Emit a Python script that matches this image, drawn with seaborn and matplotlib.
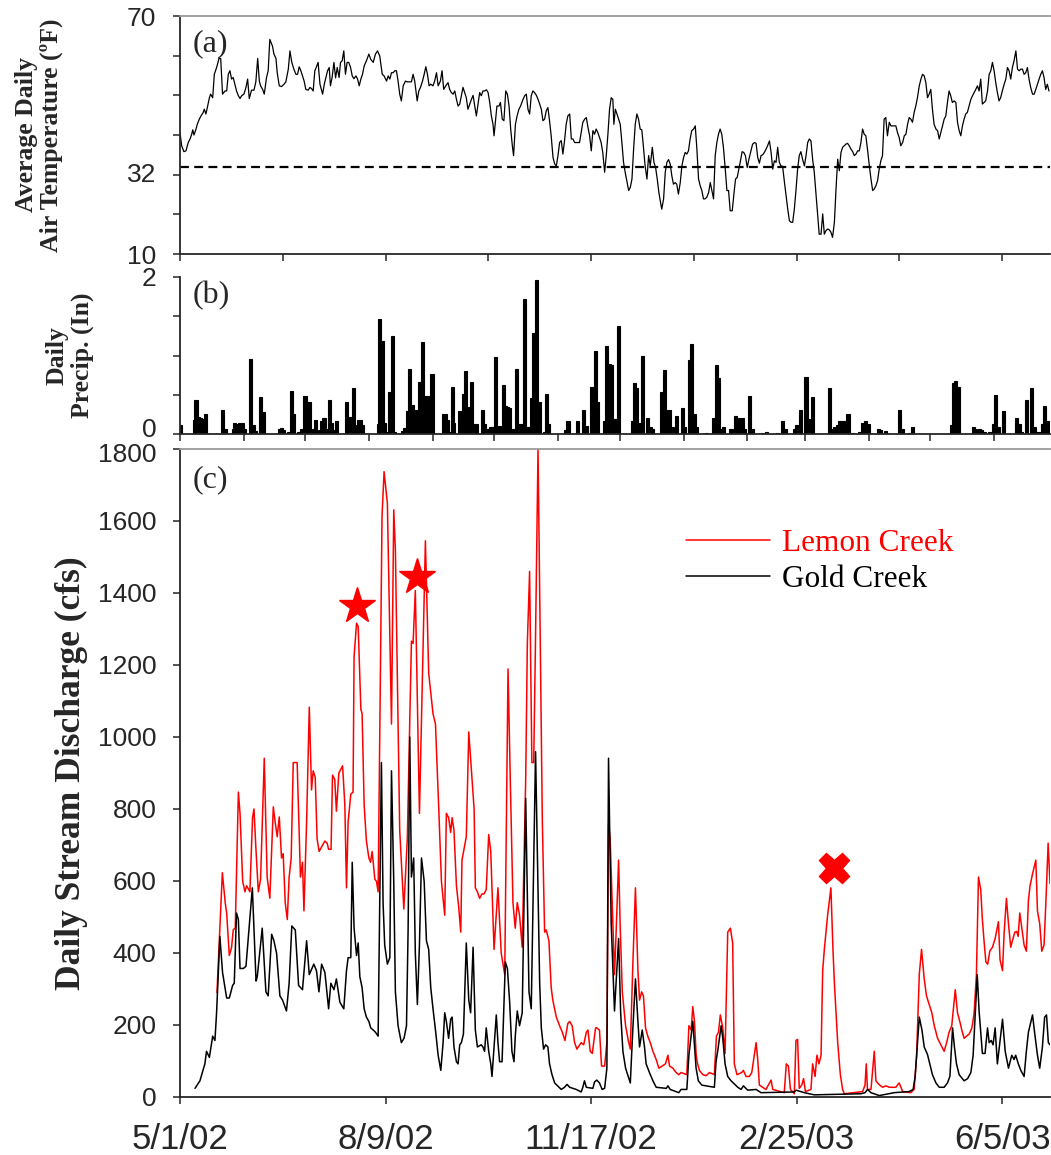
import matplotlib
matplotlib.use("Agg")
import matplotlib.pyplot as plt
import matplotlib.transforms as mtransforms
import seaborn as sns
import pandas as pd
import numpy as np

# ---------------- data (day offset from 5/1/2002, value) ----------------
START = pd.Timestamp("2002-05-01")

TEMP_F = [
(0,40.6),(0.8,37.3),(1.9,35.8),(2.9,36),(4.0,38.1),(4.9,39),(5.7,40.2),(6.2,41.3),(6.8,40),(7.8,41.5),
(8.4,42.7),(9.4,44),(10.2,44.8),(11.3,45.7),(11.8,46.5),(12.6,45.3),(13.3,46.9),(14.3,49.4),(14.9,50.3),(15.9,49.4),
(16.7,55.3),(17.8,57),(19.0,59.3),(19.8,59.3),(20.7,50.3),(21.9,51.1),(22.7,51.1),(23.5,55.3),(24.3,56.2),(25.1,54.1),
(25.9,54.5),(26.7,52.8),(27.5,51.1),(28.4,49.9),(29.2,49.2),(30.0,49.9),(31.1,50.3),(32.1,52),(32.9,54.1),(33.7,49.2),
(34.8,51.3),(36.0,51.3),(36.9,53.4),(37.8,59.3),(38.6,53.6),(39.2,52.4),(40.2,51.5),(41.0,50.3),(42.1,54.5),(42.9,56.2),
(43.7,64.1),(45.0,62.4),(45.7,60.4),(46.7,59.3),(47.3,55.7),(48.3,52.4),(49.4,52.2),(50.6,52.8),(51.5,53.4),(52.7,56.6),
(53.5,61.2),(54.4,58.3),(55.4,56.6),(56.4,55.3),(57.2,55.3),(58.0,57.2),(58.8,56.2),(59.6,54.9),(60.4,53.6),(61.2,51.5),
(62.4,51.3),(63.2,52),(64.0,51.7),(64.8,51.1),(65.6,56.2),(66.4,57.2),(67.2,58.3),(68.1,52.8),(69.4,50.3),(70.2,52.8),
(71.0,54.5),(71.8,56.2),(72.6,57),(73.2,52.4),(74.0,54.5),(74.9,58.3),(75.7,54.4),(76.5,57),(77.4,54.5),(78.1,58.3),
(78.9,58.7),(79.7,61.2),(80.5,55.3),(81.3,58.3),(82.1,58.3),(83.0,57),(83.8,54.9),(84.6,54.2),(85.6,54.9),(86.4,54.1),
(87.2,52.4),(88.0,54.1),(88.8,55.3),(89.6,57.4),(90.7,58.7),(91.9,60.4),(92.8,59.1),(94.0,58.3),(95.1,60.4),(96.1,61.2),
(97.2,59.9),(98.4,55.3),(99.3,54.9),(100.5,53.6),(101.3,54.9),(102.1,54.1),(102.9,55.7),(103.7,55.7),(104.5,56.2),(105.3,56.2),
(106.1,53.6),(106.9,50.3),(107.7,48.6),(108.6,52.4),(109.7,53.6),(110.5,53.4),(111.8,53.4),(112.6,53.4),(113.4,55.3),(114.2,53.6),
(114.7,51.5),(115.4,48.6),(116.2,51.1),(117.0,52),(118.0,53.6),(118.8,55.3),(119.6,57.2),(120.4,55.3),(121.2,52.4),(122.0,52.8),
(123.1,52.4),(123.9,53.6),(124.8,55.7),(125.6,52.4),(126.7,53.6),(127.5,56.2),(128.3,51.5),(129.3,52.4),(130.4,53.2),(131.2,51.5),
(132.0,50.7),(132.9,50.3),(133.7,51.1),(134.5,49),(135.3,47.3),(136.1,47.8),(136.9,49.9),(137.7,52),(138.5,50.7),(139.3,49.4),
(140.1,46.5),(141.0,47.8),(141.8,49),(142.6,50),(143.4,47.3),(144.2,44.8),(145.0,47.8),(145.8,50.7),(146.6,49.9),(147.4,51.1),
(148.2,51.1),(149.1,51.4),(149.9,50.7),(150.7,48.2),(151.5,44.8),(152.3,42.7),(152.8,39.8),(153.6,44),(154.2,47.3),(155.2,47.3),
(155.9,48.2),(156.8,44),(157.6,43.6),(158.5,51.1),(159.3,50.3),(160.1,47.3),(160.9,41.5),(161.7,37.3),(162.3,34.8),(163.2,42.7),
(164.0,44.8),(164.9,46.5),(165.7,47.3),(166.9,49),(167.7,49.9),(168.5,50.3),(169.3,46.5),(170.1,45.3),(170.9,49.9),(171.7,51.1),
(172.5,50.7),(173.4,50),(174.2,49),(175.0,47.8),(175.8,46.5),(176.6,43.6),(177.4,44),(178.2,46.1),(179.0,46.9),(179.8,43.6),
(180.6,39.8),(181.5,34.3),(182.3,32.7),(183.1,32.2),(183.9,34.8),(184.7,38.1),(185.5,38.6),(186.3,35.2),(187.1,38.6),(187.9,42.7),
(188.7,44.8),(189.6,45.3),(190.4,39),(191.2,39),(192.0,38.1),(192.8,38.1),(193.6,38.1),(194.4,38.1),(195.2,40.6),(196.0,43.2),
(196.9,44),(197.7,44.4),(198.5,41.9),(199.3,39.8),(200.1,36),(200.9,41.1),(201.7,40.2),(202.5,41.5),(203.3,40.6),(204.1,39.4),
(204.9,38.1),(205.7,35.6),(206.6,30.6),(207.4,34.8),(208.2,40.2),(209.0,46.5),(209.8,49.4),(210.6,49),(211.1,42.7),(211.8,46.5),
(212.6,45.3),(213.4,44),(214.2,42.7),(215.0,38.1),(215.8,33.1),(216.6,30.6),(217.4,28.5),(218.3,26),(219.1,26.8),(219.9,28.9),
(220.7,36.4),(221.5,42.7),(222.3,45.3),(223.1,44),(223.9,41.5),(224.7,41.3),(225.5,36.9),(226.3,32.2),(227.2,28.9),(228.0,34.8),
(228.8,32.2),(229.8,36.9),(230.6,33.1),(231.4,31.8),(232.2,28.9),(233.0,25.5),(233.8,23),(234.4,21.3),(235.3,23.9),(236.1,30.6),
(236.9,33.1),(237.7,33.8),(238.5,32.7),(239.3,29.7),(240.1,27.6),(240.9,28),(241.7,27.6),(242.5,25.1),(243.4,28),(244.2,32.2),
(245.0,34.3),(245.8,35.6),(246.6,35.2),(247.4,36),(248.2,39),(249.0,41.1),(249.9,41.5),(250.7,42.3),(251.5,36.4),(252.3,28.9),
(253.1,27.2),(253.9,26),(254.7,23.9),(255.5,23.9),(256.3,24.3),(257.2,25.5),(258.0,28),(258.8,26),(259.6,23.9),(260.4,34.8),
(261.2,38.1),(262.0,40.2),(262.8,41.5),(263.6,40.2),(264.4,36.9),(265.3,31.4),(266.1,26),(266.9,26),(267.7,20.9),(268.7,20.9),
(269.5,25.1),(270.3,28.9),(271.1,29.3),(271.9,31.4),(272.7,33.5),(273.5,35.8),(274.3,35.6),(275.1,34.8),(276.0,31.8),(276.8,33.9),
(277.8,36),(278.6,37.7),(279.5,38.1),(280.3,37.9),(281.1,34.3),(281.9,32.9),(282.7,34.8),(283.5,35),(284.3,35.6),(285.1,36.4),
(285.9,37.3),(286.8,38.5),(287.6,35.6),(288.4,31.4),(289.2,33.5),(290.0,33.1),(290.8,36.9),(291.6,33.1),(292.4,32.2),(293.2,32.1),
(294.0,28.5),(294.9,24.7),(295.7,21.3),(296.5,18.4),(297.3,18),(298.1,18),(298.9,21.3),(299.7,26),(300.5,31.4),(301.3,34.8),
(302.1,35.8),(302.9,33.9),(303.8,32.2),(304.6,34.8),(305.4,38.1),(306.2,39),(307.0,38.5),(307.8,33.9),(308.6,30.6),(309.4,25.5),
(310.2,20.5),(311.0,15),(311.9,15),(312.7,20.1),(313.5,15),(314.3,15.9),(315.1,16.3),(315.9,16.1),(316.7,15.5),(317.5,14.2),
(318.4,18),(319.2,26.5),(320.0,33.9),(320.8,31),(321.6,35.6),(322.4,36.9),(323.2,37.3),(324.0,37.7),(324.8,37.9),(325.6,37.3),
(326.5,36.4),(327.3,35.8),(328.1,34.8),(328.9,35.2),(329.7,36),(330.5,36),(331.3,38.1),(332.1,41.5),(332.9,40.2),(333.7,39.8),
(334.5,36.4),(335.4,32.2),(336.2,28.9),(337.0,26),(337.8,26.4),(338.6,27.2),(339.4,28.5),(340.2,31.4),(341.0,33.5),(341.8,34.8),
(342.6,44),(343.4,44.4),(344.2,39.8),(345.1,43.2),(345.9,42.3),(346.7,42.3),(347.5,42.3),(348.3,42.3),(349.1,40.6),(349.9,39.4),
(350.7,37.3),(351.6,38.1),(352.4,39.8),(353.2,40.2),(354.0,42.7),(354.8,44.4),(355.6,44),(356.4,43.2),(357.2,45.7),(358.0,47.3),
(358.8,49.4),(359.7,52.4),(360.5,54.1),(361.3,55.3),(362.1,54.9),(362.9,53.2),(363.7,49.4),(364.5,50.3),(365.3,51.5),(366.1,46.5),
(366.9,42.7),(367.8,41.5),(368.6,41.1),(369.4,39),(370.2,40.6),(371.0,42.3),(371.8,44),(372.6,44.8),(373.4,48.2),(374.2,51.1),
(375.0,49.9),(375.8,48.2),(376.7,48.6),(377.5,48.2),(378.3,43.2),(379.1,41.1),(379.9,39.8),(380.7,42.3),(381.5,44),(382.3,45.3),
(383.1,45.7),(383.9,47.3),(384.8,49),(385.6,49.9),(386.4,50.7),(387.2,51.5),(388.0,52.4),(388.8,51.1),(389.6,54.1),(390.4,47.8),
(391.2,48.2),(392.0,48.6),(392.9,51.1),(393.7,55.3),(394.5,56.2),(395.3,58.3),(396.1,56.2),(396.9,53.2),(397.7,50.7),(398.5,48.6),
(399.3,49.4),(400.1,51.1),(401.0,52.8),(401.8,54.1),(402.6,57),(403.4,56.2),(404.2,54.1),(405.0,57),(405.8,58.7),(406.7,61.2),
(407.5,56.6),(408.3,56.2),(409.1,56.6),(409.9,56.6),(410.7,55.3),(411.5,55.7),(412.3,57),(413.1,54.1),(413.9,52),(414.8,50.3),
(415.6,50.3),(416.4,51.5),(417.2,52.8),(418.0,54.1),(418.8,55.3),(419.6,56.2),(420.4,54.5),(421.2,51.5),(422.0,52.8),(422.8,51.1),
]

PRECIP_IN = [
(0,0.12),(7.3,0.18),(7.8,0.43),(8.9,0.22),(10.0,0.2),(11.0,0.19),(12.4,0.26),(20.7,0.3),(21.9,0.07),(25.9,0.07),
(26.7,0.14),(27.5,0.13),(28.4,0.11),(29.2,0.14),(30.5,0.14),(31.6,0.07),(34.4,0.95),(35.7,0.11),(36.5,0.04),(39.2,0.47),
(40.5,0.28),(48.6,0.06),(49.4,0.08),(50.2,0.05),(52.7,0.03),(54.3,0.55),(55.4,0.26),(57.5,0.03),(59.1,0.06),(60.8,0.49),
(61.9,0.41),(62.9,0.41),(63.9,0.05),(64.8,0.07),(66.1,0.18),(67.7,0.05),(68.9,0.16),(69.7,0.21),(70.5,0.21),(71.3,0.06),
(72.6,0.43),(73.7,0.14),(74.5,0.05),(76.1,0.16),(81.0,0.41),(82.0,0.22),(83.4,0.22),(84.3,0.58),(85.1,0.11),(86.7,0.18),
(87.8,0.18),(88.8,0.11),(96.4,0.13),(97.2,1.46),(98.5,1.19),(99.6,0.14),(100.8,0.03),(102.1,0.53),(103.2,1.25),(104.5,0.02),
(108.2,0.04),(109.4,0.08),(110.5,0.29),(111.8,0.83),(112.9,0.37),(114.2,0.31),(115.4,0.31),(116.7,0.66),(117.8,1.17),(119.1,0.48),
(120.2,0.48),(121.5,0.31),(122.6,0.77),(128.0,0.26),(129.1,0.26),(130.1,0.18),(131.2,0.03),(132.4,0.6),(133.2,0.14),(135.8,0.29),
(136.9,0.13),(138.0,0.51),(139.0,0.8),(140.1,0.34),(141.0,0.13),(141.8,0.66),(142.9,0.13),(144.2,0.13),(147.1,0.31),(148.2,0.13),
(149.4,0.06),(150.4,0.07),(151.2,0.09),(152.3,0.09),(153.4,0.98),(154.7,0.09),(155.5,0.1),(157.2,0.63),(158.3,0.36),(159.3,0.35),
(160.4,0.33),(162.0,0.07),(163.6,0.83),(164.9,0.13),(166.1,0.13),(167.7,1.72),(168.5,0.09),(169.8,0.09),(170.9,0.46),(172.1,1.29),
(173.4,1.96),(174.7,0.41),(177.4,0.02),(178.2,0.51),(179.5,0.13),(187.6,0.05),(188.8,0.16),(193.6,0.16),(196.4,0.31),(197.7,0.1),
(200.1,0.6),(202.2,1.06),(203.3,0.41),(206.6,0.17),(207.7,1.12),(209.0,0.89),(210.1,0.88),(211.4,0.19),(212.2,0.19),(213.5,1.37),
(220.0,0.17),(221.1,0.65),(222.3,0.58),(223.6,0.14),(224.9,1.0),(227.6,0.21),(228.8,0.09),(230.1,0.06),(234.4,0.53),(235.6,0.82),
(236.9,0.31),(238.2,0.31),(239.8,0.09),(241.4,0.23),(244.3,0.33),(245.5,0.09),(247.9,0.94),(249.0,1.15),(250.3,0.26),(251.5,0.09),
(256.0,0.01),(259.6,0.21),(260.9,0.88),(262.2,0.71),(263.3,0.07),(264.5,0.09),(268.1,0.06),(270.3,0.23),(271.4,0.18),(272.2,0.2),
(273.5,0.21),(274.7,0.07),(277.1,0.48),(278.3,0.07),(283.5,0.01),(285.5,0.02),(290.8,0.01),(293.2,0.16),(294.5,0.06),(298.9,0.07),
(300.0,0.11),(301.8,0.31),(304.6,0.73),(305.9,0.19),(307.8,0.47),(316.2,0.58),(317.5,0.07),(318.7,0.09),(319.9,0.11),(321.1,0.17),
(322.4,0.17),(323.5,0.17),(325.0,0.26),(327.3,0.01),(330.5,0.03),(332.1,0.14),(333.4,0.17),(334.9,0.13),(339.9,0.06),(341.0,0.05),
(343.1,0.04),(350.0,0.31),(351.6,0.07),(354.8,0.01),(356.4,0.09),(375.2,0.11),(376.3,0.65),(377.5,0.68),(378.8,0.6),(385.9,0.09),
(387.2,0.07),(388.8,0.07),(389.9,0.05),(391.3,0.03),(394.0,0.02),(395.7,0.13),(397.0,0.5),(398.2,0.09),(400.7,0.29),(407.1,0.21),
(408.3,0.13),(409.6,0.02),(411.8,0.43),(414.1,0.58),(415.6,0.09),(416.7,0.03),(418.3,0.03),(419.6,0.13),(420.7,0.36),(422.0,0.16),
]

LEMON_CFS = [
(18,290),(20.6,623),(22.0,540),(22.7,511),(24.0,393),(25.1,416),(25.9,464),(26.9,470),(28.4,847),(29.2,788),
(30.5,599),(31.6,570),(32.4,587),(34.0,570),(35.3,776),(36.0,800),(36.9,694),(38.1,570),(39.2,605),(41.0,941),
(42.4,611),(43.7,552),(45.4,806),(46.3,764),(47.3,723),(48.3,778),(49.4,664),(50.2,676),(51.2,540),(52.2,493),
(53.1,611),(54.1,664),(55.1,929),(57.0,929),(58.6,611),(59.6,652),(60.3,517),(61.6,764),(62.9,1083),(64.0,853),
(64.8,906),(65.8,888),(66.7,717),(67.7,682),(69.3,699),(70.5,711),(71.6,705),(72.3,688),(73.5,688),(74.2,894),
(75.3,882),(76.1,794),(77.3,900),(79.1,920),(80.2,812),(81.0,581),(81.8,764),(83.1,841),(84.2,847),(84.7,1224),
(85.9,1316),(86.7,1307),(88.0,1077),(88.6,1065),(89.6,811),(90.7,711),(91.9,664),(92.7,652),(93.5,682),(94.8,605),
(95.6,599),(96.4,570),(98.3,1614),(99.3,1737),(100.9,1649),(102.9,1036),(104.0,1631),(104.8,1519),(106.9,741),(108.9,522),
(110.6,717),(112.6,1266),(113.4,1260),(114.5,1407),(116.5,788),(119.4,1545),(121.0,1177),(123.1,1065),(124.3,1036),(125.9,800),
(127.2,599),(128.8,505),(129.6,788),(130.7,776),(131.7,735),(132.4,776),(133.3,741),(134.5,587),(135.6,528),(136.6,458),
(137.2,658),(139.3,723),(140.5,1014),(141.8,906),(143.1,800),(143.7,581),(144.7,570),(145.8,552),(146.9,564),(147.9,564),
(149.0,576),(150.2,729),(151.2,682),(152.8,410),(154.7,581),(156.3,399),(158.0,340),(159.6,1189),(160.7,882),(162.0,540),
(163.1,469),(164.1,540),(165.2,505),(166.5,416),(168.2,882),(169.0,1260),(170.1,1460),(171.2,929),(172.1,929),(173.0,1283),
(174.2,1800),(176.3,764),(177.4,458),(178.2,464),(179.5,434),(180.6,304),(181.4,269),(183.1,222),(184.7,198),(186.0,180),
(187.3,157),(188.7,204),(189.6,210),(190.8,198),(192.0,151),(193.1,133),(195.2,151),(196.4,145),(197.7,180),(198.5,186),
(199.6,127),(200.6,121),(202.2,192),(202.8,192),(204.1,186),(205.1,86),(206.6,86),(207.7,151),(208.5,758),(209.3,717),
(211.4,340),(212.2,458),(213.4,658),(214.2,469),(215.2,292),(216.8,198),(218.1,157),(219.1,133),(220.3,363),(221.6,581),
(222.8,351),(223.6,269),(224.6,292),(225.5,281),(226.5,192),(227.6,169),(228.8,151),(230.1,127),(231.7,104),(233.0,80),
(236.2,92),(237.4,116),(238.2,86),(239.8,80),(241.4,68),(242.7,62),(243.8,68),(246.6,62),(247.6,198),(248.7,186),
(249.5,251),(250.3,210),(251.1,121),(251.6,98),(252.7,74),(254.4,62),(256.0,59),(257.6,68),(260.0,62),(261.0,169),
(262.0,180),(262.9,228),(264.1,192),(265.2,121),(266.5,458),(267.8,469),(268.9,428),(269.7,92),(271.0,62),(273.3,68),
(274.1,74),(275.4,57),(277.0,57),(278.2,68),(279.1,104),(280.3,151),(281.1,104),(281.9,33),(285.1,21),(286.8,39),
(287.6,47),(288.4,21),(294.0,12),(295.0,92),(296.0,86),(297.0,21),(298.9,9),(299.7,157),(300.5,160),(301.3,24),
(302.5,33),(303.4,51),(304.3,15),(307.0,21),(307.8,92),(309.0,57),(309.9,116),(310.9,92),(311.9,116),(312.7,351),
(313.5,410),(315.1,505),(316.7,581),(317.7,410),(318.4,316),(320.0,151),(321.3,62),(322.4,21),(323.2,9),(332.1,15),
(333.3,33),(333.9,92),(334.5,21),(336.2,21),(337.8,127),(338.6,45),(339.4,39),(340.5,33),(341.8,27),(343.5,31),
(345.1,27),(348.3,27),(349.9,39),(350.8,27),(351.6,15),(355.6,12),(357.2,21),(358.4,116),(359.7,340),(360.8,410),
(362.1,328),(363.2,281),(364.5,257),(365.8,234),(367.0,198),(368.6,163),(370.2,145),(371.8,127),(373.0,151),(374.2,180),
(375.5,198),(377.2,298),(378.3,234),(379.4,210),(380.4,186),(381.5,163),(382.7,169),(384.0,175),(385.3,192),(386.4,234),
(387.5,340),(388.5,611),(389.6,576),(390.4,493),(391.2,434),(392.1,375),(393.0,369),(394.0,405),(395.3,416),(396.6,440),
(398.2,487),(399.0,381),(400.2,351),(401.0,458),(402.1,552),(403.1,481),(404.2,416),(405.0,434),(406.2,458),(407.1,460),
(407.8,446),(408.6,511),(409.6,469),(410.7,422),(411.8,405),(412.8,546),(413.6,587),(414.7,617),(416.4,658),(417.2,517),
(418.3,481),(419.3,405),(420.4,422),(421.2,528),(422.4,705),(423.3,593),
]

GOLD_CFS = [
(7.3,24),(9.7,45),(12.1,92),(12.9,127),(14.3,110),(15.9,169),(17.0,157),(17.8,234),(19.4,446),(20.7,346),
(22.7,275),(24.0,275),(25.6,310),(26.4,316),(27.5,511),(28.4,493),(29.2,357),(30.8,357),(32.1,363),(35.2,581),
(37.0,322),(37.6,334),(40.0,469),(41.8,292),(42.9,281),(44.6,452),(45.7,434),(47.0,399),(48.6,281),(49.9,269),
(51.8,239),(53.1,316),(54.4,475),(56.1,464),(57.7,310),(59.6,298),(61.6,434),(62.9,340),(65.1,369),(66.4,351),
(67.6,292),(68.9,369),(70.5,346),(72.3,245),(73.4,316),(74.9,298),(76.1,328),(77.8,263),(79.7,245),(81.0,351),
(81.8,387),(83.1,387),(83.8,652),(84.7,469),(85.9,393),(86.7,428),(87.5,334),(88.6,304),(89.6,245),(90.7,222),
(91.9,210),(92.8,192),(94.0,186),(95.1,180),(96.4,169),(98.0,929),(98.8,540),(99.6,422),(100.9,369),(102.1,387),
(102.9,906),(104.0,599),(104.8,292),(106.1,198),(107.7,151),(109.0,163),(110.2,198),(111.0,469),(111.8,1000),(112.6,611),
(113.7,664),(114.5,399),(115.5,257),(116.5,422),(117.5,664),(118.8,599),(119.9,434),(121.0,410),(122.0,304),(123.1,245),
(124.3,186),(125.6,116),(126.9,74),(128.0,151),(128.8,234),(129.6,210),(130.7,163),(131.7,216),(132.4,222),(133.3,139),
(134.5,98),(135.3,92),(136.1,145),(136.9,151),(137.9,175),(139.3,428),(140.5,269),(141.4,234),(142.6,416),(143.7,186),
(144.7,139),(146.6,145),(147.4,139),(148.2,127),(149.0,192),(150.2,127),(151.2,92),(151.8,57),(153.1,163),(153.9,228),
(154.7,151),(155.5,98),(156.7,98),(158.3,375),(159.3,357),(160.4,263),(161.5,127),(162.5,98),(163.2,175),(164.1,239),
(165.2,198),(166.5,234),(168.2,829),(169.8,292),(170.9,245),(173.0,959),(175.0,316),(175.8,192),(176.9,133),(177.9,145),
(179.0,139),(179.8,92),(181.0,62),(182.3,39),(185.5,21),(187.1,27),(188.3,35),(189.6,27),(192.8,21),(195.2,14),
(196.0,27),(196.8,45),(197.7,27),(200.9,24),(201.7,42),(202.8,47),(204.1,39),(205.4,21),(206.6,24),(207.7,80),
(208.5,941),(209.8,481),(211.4,239),(213.4,440),(214.4,234),(215.5,127),(216.8,80),(218.1,57),(219.1,39),(220.3,186),
(221.6,328),(222.8,210),(223.6,139),(224.9,186),(226.0,139),(226.8,92),(228.4,68),(230.1,45),(231.7,27),(236.6,24),
(237.4,31),(238.5,21),(242.7,12),(243.8,21),(246.6,21),(247.6,116),(249.5,210),(251.1,80),(252.2,45),(253.9,33),
(260.0,27),(260.8,98),(261.6,127),(263.3,198),(264.1,163),(265.2,92),(266.5,57),(268.1,45),(271.4,27),(273.0,21),
(274.1,31),(276.2,19),(280.3,21),(282.7,12),(298.9,14),(299.7,19),(303.8,12),(308.6,6),(331.3,9),(333.3,12),
(334.5,21),(336.2,12),(340.2,4),(347.5,12),(354.8,15),(356.7,21),(357.7,57),(359.7,222),(361.0,186),(362.1,139),
(363.7,118),(364.8,92),(366.1,62),(367.8,39),(369.4,27),(371.8,27),(373.4,39),(374.6,57),(375.9,192),(376.8,139),
(377.8,92),(379.1,62),(381.5,45),(383.2,51),(384.8,68),(385.9,116),(387.9,340),(388.8,239),(390.4,121),(391.7,121),
(392.9,192),(393.7,151),(394.7,157),(395.6,145),(396.6,192),(397.7,92),(400.2,216),(401.5,127),(403.1,80),(404.7,116),
(405.8,104),(406.6,116),(407.9,92),(409.1,74),(410.7,57),(411.8,127),(412.8,180),(414.8,228),(415.9,175),(417.2,116),
(418.3,80),(419.6,139),(420.7,222),(421.6,228),(422.5,151),(423.3,145),
]

STAR_DAYS = [86.0, 115.2]
STAR_CFS = [1363, 1444]
CROSS_DAYS = [318.3]
CROSS_CFS = [637]

XTICK_DATES = ["2002-05-01", "2002-08-09", "2002-11-17", "2003-02-25", "2003-06-05"]
XTICK_LABELS = ["5/1/02", "8/9/02", "11/17/02", "2/25/03", "6/5/03"]
SERIES_NAMES = ["Lemon Creek", "Gold Creek"]

# ---------------- style ----------------
sns.set_style("ticks")
plt.rcParams["font.family"] = ["Liberation Sans", "DejaVu Sans"]
SERIF = ["Liberation Serif", "DejaVu Serif"]

def split(pairs):
    d, v = zip(*pairs)
    return np.array(d, float), np.array(v, float)

temp_d, temp_v = split(TEMP_F)
prec_d, prec_v = split(PRECIP_IN)
lem_d, lem_v = split(LEMON_CFS)
gold_d, gold_v = split(GOLD_CFS)

xtick_pos = [(pd.Timestamp(s) - START).days for s in XTICK_DATES]
month_pos = [(m - START).days for m in pd.date_range("2002-05-01", "2003-06-30", freq="MS")]
XMAX = 423.3

W, H = 1051, 1155
fig = plt.figure(figsize=(W / 100, H / 100), dpi=100)

def box(l, t, r, b):
    return [l / W, 1 - b / H, (r - l) / W, (b - t) / H]

axA = fig.add_axes(box(180, 16, 1050, 254))
axB = fig.add_axes(box(180, 277, 1050, 434))
axC = fig.add_axes(box(180, 449, 1050, 1097))

TICKFS = 19
for ax in (axA, axB, axC):
    ax.set_xlim(0, XMAX)
    ax.spines["right"].set_visible(False)
    for s in ("left", "bottom"):
        ax.spines[s].set_linewidth(1.3)
    ax.tick_params(axis="both", which="both", direction="out", length=5, width=1.1,
                   labelsize=TICKFS, pad=12)
for ax in (axA, axC):
    ax.spines["top"].set_color("#9a9a9a")
    ax.spines["top"].set_linewidth(1.3)
axB.spines["top"].set_visible(False)

def shift(label, dy_px):
    label.set_transform(label.get_transform() +
                        mtransforms.ScaledTranslation(0, dy_px / 100, fig.dpi_scale_trans))

# ---- panel (a): temperature ----
sns.lineplot(x=temp_d, y=temp_v, ax=axA, color="black", lw=0.9, sort=False, estimator=None)
axA.axhline(32, color="black", lw=1.6, ls=(0, (4, 2.4)))
axA.set_ylim(10, 70)
axA.set_yticks([10, 32, 70])
axA.set_yticklabels(["10", "32", "70"])
axA.yaxis.get_major_ticks()[1].tick1line.set_visible(False)
shift(axA.get_yticklabels()[1], -6)
axA.set_yticks([20, 30, 40, 50, 60], minor=True)
axA.set_xticks(np.arange(0, 401, 50))
axA.set_xticklabels([])
axA.set_ylabel("Average Daily\nAir Temperature (ºF)", fontfamily=SERIF, fontweight="bold",
               fontsize=18.5, linespacing=1.1)
axA.yaxis.set_label_coords(-0.134, 0.5)
axA.text(0.015, 0.945, "(a)", transform=axA.transAxes, fontfamily=SERIF, fontsize=23, va="top")

# ---- panel (b): precipitation ----
axB.bar(prec_d, prec_v, width=1.5, color="black", edgecolor="black", linewidth=0.8)
axB.set_ylim(0, 2)
axB.set_yticks([0, 2])
axB.set_yticklabels(["0", "2"])
axB.get_yticklabels()[0].set_verticalalignment("bottom")
shift(axB.get_yticklabels()[0], -8)
axB.set_yticks([0.5, 1.0, 1.5], minor=True)
axB.set_xticks(month_pos)
axB.set_xticklabels([])
axB.set_ylabel("Daily\nPrecip. (In)", fontfamily=SERIF, fontweight="bold", fontsize=18.5, linespacing=1.1)
axB.yaxis.set_label_coords(-0.099, 0.5)
axB.text(0.015, 0.975, "(b)", transform=axB.transAxes, fontfamily=SERIF, fontsize=23, va="top")

# ---- panel (c): discharge ----
sns.lineplot(x=lem_d, y=lem_v, ax=axC, color="#ff0000", lw=1.1, sort=False, estimator=None,
             label=SERIES_NAMES[0])
sns.lineplot(x=gold_d, y=gold_v, ax=axC, color="black", lw=1.1, sort=False, estimator=None,
             label=SERIES_NAMES[1])
axC.plot(STAR_DAYS, STAR_CFS, ls="none", marker="*", ms=27, color="#ff0000", mec="#ff0000")
axC.plot(CROSS_DAYS, CROSS_CFS, ls="none", marker="X", ms=22, color="#ff0000", mec="#ff0000")
axC.set_ylim(0, 1800)
axC.set_yticks(np.arange(0, 1801, 200))
top_lab = axC.get_yticklabels()[-1]
top_lab.set_verticalalignment("top")
shift(top_lab, 6)
axC.set_xticks(xtick_pos)
axC.set_xticklabels(XTICK_LABELS)
axC.tick_params(axis="x", pad=14, labelsize=25)
axC.set_xlabel("")
axC.set_ylabel("Daily Stream Discharge (cfs)", fontfamily=SERIF, fontweight="bold", fontsize=25.5)
axC.yaxis.set_label_coords(-0.106, 0.5)
axC.text(0.015, 0.975, "(c)", transform=axC.transAxes, fontfamily=SERIF, fontsize=23, va="top")

leg = axC.legend(frameon=False, loc="upper left", bbox_to_anchor=(0.5816, 0.876),
                 prop={"family": SERIF, "size": 22.5}, handlelength=2.7, handletextpad=0.38,
                 labelspacing=0.2, borderpad=0, borderaxespad=0)
for txt, ln in zip(leg.get_texts(), leg.get_lines()):
    txt.set_color(ln.get_color())
    ln.set_linewidth(1.1)

for ax in (axA, axB):
    ax.set_xlabel("")

fig.savefig("out.png", dpi=100)
